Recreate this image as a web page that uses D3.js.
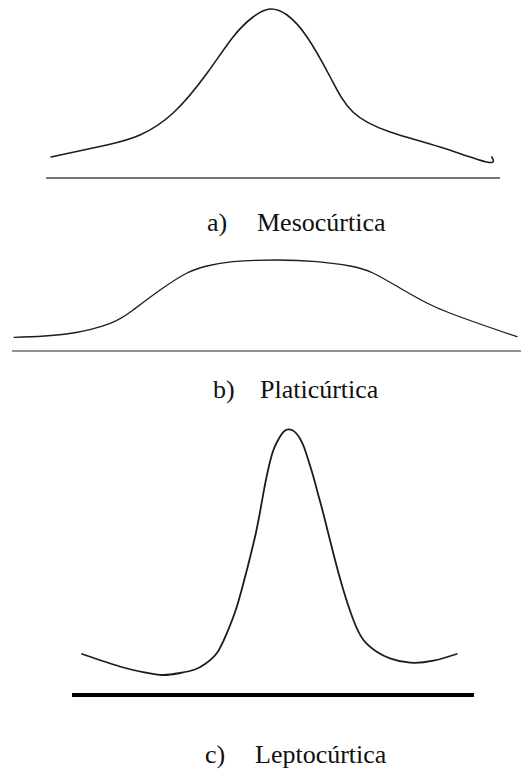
<!DOCTYPE html>
<html>
<head>
<meta charset="utf-8">
<script src="https://cdn.jsdelivr.net/npm/d3@7"></script>
<style>
  html, body { margin: 0; padding: 0; background: #fff; }
  svg { display: block; }
</style>
</head>
<body>
<script>
// Curve shapes for the three kurtosis types: x position (0–100 across the panel)
// and height above the baseline (in arbitrary density units).
const mesoX = [1.1, 13.4, 20.7, 28.0, 35.5, 41.2, 45.6, 49.3, 53.1, 57.5, 62.6, 67.6, 75.8, 86.8, 97.1, 98.2];
const mesoY = [21, 33, 43, 65, 105, 141, 161, 169, 163, 141, 101, 66, 46, 31, 16, 21];

const platiX = [0.4, 10.7, 19.3, 23.8, 29.1, 34.4, 38.3, 43.4, 52.1, 59.9, 66.4, 70.9, 76.2, 81.5, 86.0, 92.5, 99.2];
const platiY = [13.7, 17, 27.7, 41, 61, 78, 85, 89.3, 91, 89.3, 85, 78, 63, 48, 38, 26, 14.3];

const leptoX = [2.5, 11.9, 18.2, 22.6, 26.9, 30.6, 33.1, 36.0, 38.5, 41.0, 43.5, 45.9,
                47.6, 48.5, 49.3, 50.1, 51.0, 52.0, 53.0, 53.8,
                54.7, 55.7, 56.7, 57.7, 58.7, 60.0, 61.2, 62.5,
                65.0, 67.5, 70.0, 72.5, 75.8, 79.1, 84.1, 89.9, 95.7];
const leptoY = [41, 28.5, 22.5, 20, 22, 25.5, 31, 41.7, 61.7, 88.3, 125, 165,
                201.7, 220, 234, 245, 253, 260, 264.5, 265.7,
                265, 262, 256.5, 248, 236, 219, 201, 181.7,
                141.7, 105, 75, 55, 43.3, 36.7, 32.3, 34.3, 41];

// Caption texts
const letters = ["a)", "b)", "c)"];
const names = ["Mesocúrtica", "Platicúrtica", "Leptocúrtica"];

const W = 521, H = 769;
const svg = d3.select("body").append("svg")
  .attr("width", W).attr("height", H)
  .attr("viewBox", `0 0 ${W} ${H}`);

// Layout of each panel
const panels = [
  { xs: mesoX,  ys: mesoY,  x0: 46, x1: 500, base: 178, top: 8,   yMax: 170, curveW: 1.6,
    axisColor: "#777", axisW: 2.2, lx: 207, nx: 257, ly: 231 },
  { xs: platiX, ys: platiY, x0: 12, x1: 521, base: 351, top: 260, yMax: 91,  curveW: 1.3,
    axisColor: "#6e6e6e", axisW: 1.4, lx: 213, nx: 260, ly: 398 },
  { xs: leptoX, ys: leptoY, x0: 72, x1: 474, base: 695, top: 429.3, yMax: 265.7, curveW: 1.8,
    axisColor: "#000", axisW: 4, lx: 205, nx: 255, ly: 763 }
];

panels.forEach((p, i) => {
  const x = d3.scaleLinear().domain([0, 100]).range([p.x0, p.x1]);
  const y = d3.scaleLinear().domain([0, p.yMax]).range([p.base, p.top]);
  const g = svg.append("g").attr("class", "panel-" + i);

  // Horizontal baseline
  g.append("line")
    .attr("x1", x(0)).attr("x2", x(100))
    .attr("y1", y(0)).attr("y2", y(0))
    .attr("stroke", p.axisColor)
    .attr("stroke-width", p.axisW);

  // Distribution curve
  const pts = p.xs.map((v, k) => [v, p.ys[k]]);
  const line = d3.line()
    .x(d => x(d[0]))
    .y(d => y(d[1]))
    .curve(d3.curveNatural);
  g.append("path")
    .datum(pts)
    .attr("d", line)
    .attr("fill", "none")
    .attr("stroke", "#1c1c1c")
    .attr("stroke-width", p.curveW)
    .attr("stroke-linecap", "round")
    .attr("stroke-linejoin", "round");

  // Caption
  const cap = g.append("g")
    .attr("font-family", "'Liberation Serif', 'Times New Roman', serif")
    .attr("font-size", 26)
    .attr("fill", "#111");
  cap.append("text").attr("x", p.lx).attr("y", p.ly).text(letters[i]);
  cap.append("text").attr("x", p.nx).attr("y", p.ly).text(names[i]);
});
</script>
</body>
</html>
